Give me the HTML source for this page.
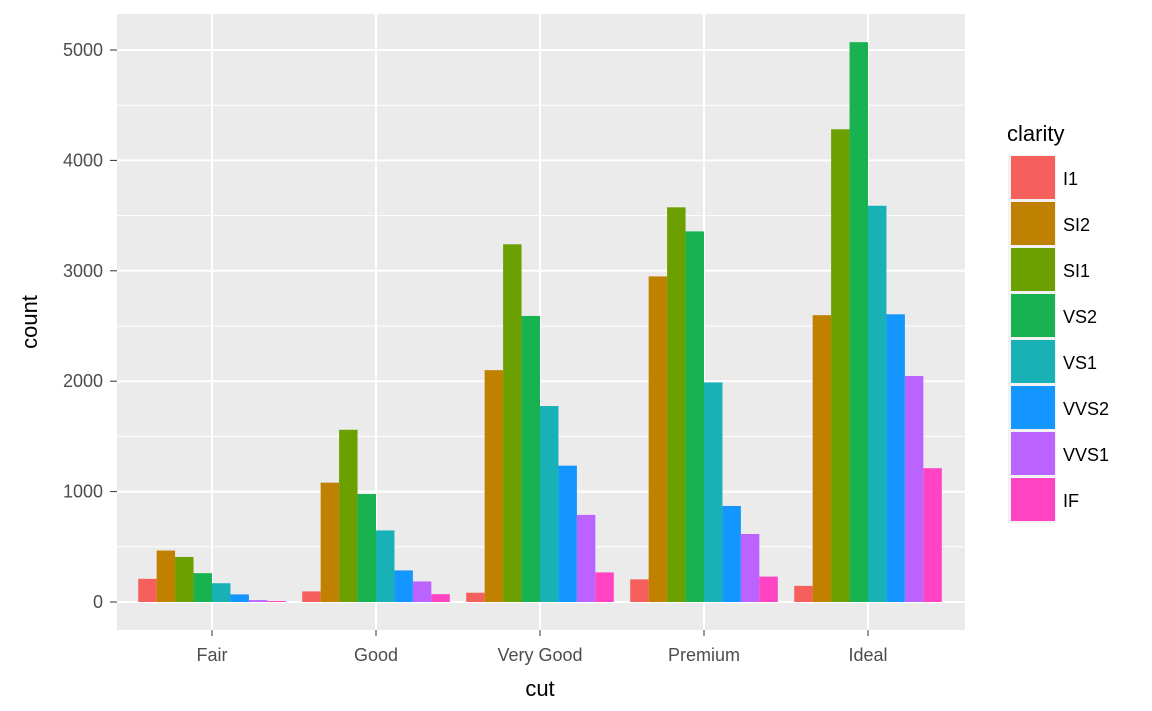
<!DOCTYPE html>
<html><head><meta charset="utf-8"><style>
body{margin:0;background:#fff;}
svg{display:block;font-family:"Liberation Sans",Arial,sans-serif;}
</style></head><body>
<svg id="chart" width="1152" height="711"></svg>
<script>
const categories=["Fair","Good","Very Good","Premium","Ideal"];
const clarities=["I1","SI2","SI1","VS2","VS1","VVS2","VVS1","IF"];
const colors=["#F5605C","#C08000","#6CA000","#18B350","#18B2B6","#1396FF","#BA63FF","#FF43C2"];
const counts=[
[210,466,408,261,170,69,17,9],
[96,1081,1560,978,648,286,186,71],
[84,2100,3240,2591,1775,1235,789,268],
[205,2949,3575,3357,1989,870,616,230],
[146,2598,4282,5071,3589,2606,2047,1212]];
const yTicks=[0,1000,2000,3000,4000,5000];
const yMinor=[500,1500,2500,3500,4500];
const NS="http://www.w3.org/2000/svg";
const svg=document.getElementById("chart");
const px0=117,px1=965,py0=14,py1=630;
function y(v){return 602-v*(552/5000);}
const step=164;
function xc(i){return 212+step*i;}
function el(t,a,p){const e=document.createElementNS(NS,t);for(const k in a)e.setAttribute(k,a[k]);(p||svg).appendChild(e);return e;}
const panel=el("rect",{x:px0,y:py0,width:px1-px0,height:py1-py0,fill:"#EBEBEB"});


yMinor.forEach(v=>{const l=el("line",{x1:px0,x2:px1,y1:y(v),y2:y(v),stroke:"#fff","stroke-width":1});

});
yTicks.forEach(v=>{const l=el("line",{x1:px0,x2:px1,y1:y(v),y2:y(v),stroke:"#fff","stroke-width":2});


const t=el("text",{x:103,y:y(v)+6,"text-anchor":"end","font-size":18,fill:"#4D4D4D"});t.textContent=v;


el("line",{x1:110,x2:117,y1:y(v),y2:y(v),stroke:"#333","stroke-width":1});});
categories.forEach((c,i)=>{const l=el("line",{x1:xc(i),x2:xc(i),y1:py0,y2:py1,stroke:"#fff","stroke-width":2});


el("line",{x1:xc(i),x2:xc(i),y1:py1,y2:py1+6,stroke:"#333","stroke-width":1});
const t=el("text",{x:xc(i),y:661,"text-anchor":"middle","font-size":18,fill:"#4D4D4D"});t.textContent=c;

});
const bw=step*0.9/clarities.length;
categories.forEach((c,i)=>{const start=xc(i)-step*0.45;
counts[i].forEach((v,j)=>{const r=el("rect",{x:start+j*bw,y:y(v),width:bw,height:y(0)-y(v),fill:colors[j]});

});});
const xt=el("text",{x:540,y:696,"text-anchor":"middle","font-size":22,fill:"#000"});xt.textContent="cut";


const yt=el("text",{x:0,y:0,"text-anchor":"middle","font-size":22,fill:"#000",transform:"translate(37,322) rotate(-90)"});yt.textContent="count";


const lt=el("text",{x:1007,y:141,"font-size":22,fill:"#000"});lt.textContent="clarity";


clarities.forEach((c,j)=>{const yy=155+j*46;
el("rect",{x:1008,y:yy,width:48,height:46,fill:"#F2F2F2"});
const k=el("rect",{x:1011,y:yy+1,width:44,height:43,fill:colors[j]});


const t=el("text",{x:1063,y:yy+30,"font-size":18,fill:"#000"});t.textContent=c;

});
</script>
</body></html>
